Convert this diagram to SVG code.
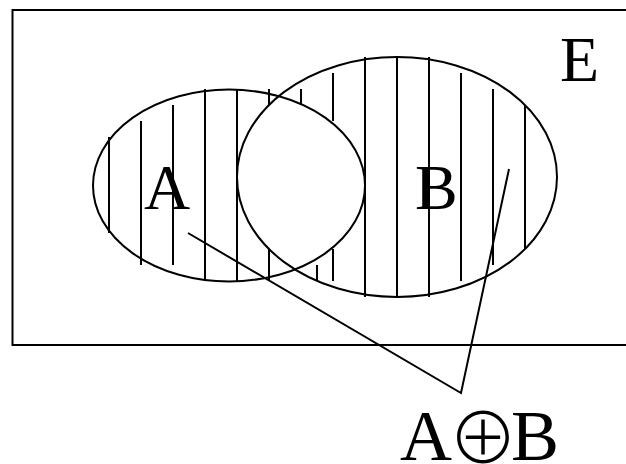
<svg xmlns="http://www.w3.org/2000/svg" width="626" height="464" viewBox="0 0 626 464">
<style>
.s{fill:none;stroke:#000;stroke-width:2}
.h{stroke:#000;stroke-width:2}
.t{font-family:"Liberation Serif","Times New Roman",serif;fill:#000}
.op{font-family:"Noto Sans CJK JP","DejaVu Sans",sans-serif;font-weight:200}
</style>
<rect width="626" height="464" fill="#fff"/>
<g id="universe">
<rect class="s" x="12.5" y="10" width="640" height="335"/>
<text class="t" x="560" y="81" font-size="64">E</text>
</g>
<g id="hatch">
<line class="h" x1="109" y1="137" x2="109" y2="233"/>
<line class="h" x1="141" y1="121" x2="141" y2="265"/>
<line class="h" x1="173" y1="105" x2="173" y2="265"/>
<line class="h" x1="205" y1="89" x2="205" y2="281"/>
<line class="h" x1="237" y1="89" x2="237" y2="281"/>
<line class="h" x1="269" y1="89" x2="269" y2="105"/>
<line class="h" x1="269" y1="249" x2="269" y2="281"/>
<line class="h" x1="301" y1="89" x2="301" y2="105"/>
<line class="h" x1="317" y1="265" x2="317" y2="281"/>
<line class="h" x1="333" y1="73" x2="333" y2="121"/>
<line class="h" x1="333" y1="249" x2="333" y2="281"/>
<line class="h" x1="365" y1="57" x2="365" y2="297"/>
<line class="h" x1="397" y1="57" x2="397" y2="297"/>
<line class="h" x1="429" y1="57" x2="429" y2="297"/>
<line class="h" x1="461" y1="73" x2="461" y2="281"/>
<line class="h" x1="493" y1="89" x2="493" y2="265"/>
<line class="h" x1="525" y1="105" x2="525" y2="249"/>
</g>
<g id="setA">
<ellipse class="s" cx="229" cy="185.5" rx="136" ry="96"/>
<text class="t" x="144" y="209" font-size="64">A</text>
</g>
<g id="setB">
<ellipse class="s" cx="397" cy="177" rx="160" ry="120"/>
<text class="t" x="415" y="209" font-size="64">B</text>
</g>
<g id="connectors">
<polyline class="s" points="188,233 461,393 509,169"/>
</g>
<g id="label">
<text class="t" font-size="72"><tspan x="400" y="460">A</tspan><tspan class="op" x="448" y="464" font-size="70">⊕</tspan><tspan x="511" y="460">B</tspan></text>
</g>
</svg>
